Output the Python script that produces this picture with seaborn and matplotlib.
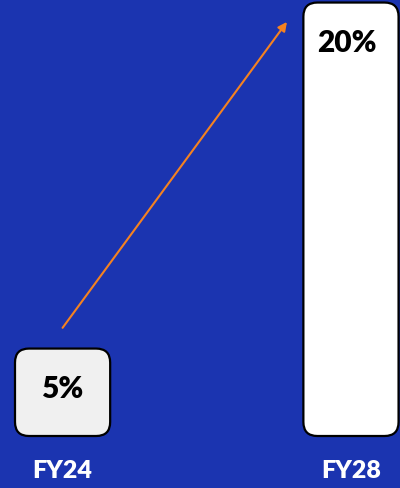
import matplotlib
matplotlib.use("Agg")
import matplotlib.pyplot as plt
import seaborn as sns
import pandas as pd
from matplotlib.patches import FancyBboxPatch

# Share by fiscal year
years = ["FY24", "FY28"]
shares = [5, 20]
share_labels = ["5%", "20%"]

BG = "#1b34b0"
BAR_COLORS = ["#f0f0f0", "#ffffff"]
ARROW = "#f58220"

sns.set_theme(style="white")
plt.rcParams["font.family"] = ["Lato", "DejaVu Sans"]

fig = plt.figure(figsize=(4, 4.88), dpi=100, facecolor=BG)
ax_bottom_px = 436
ax = fig.add_axes([0, 1 - ax_bottom_px / 488, 1, ax_bottom_px / 488])
ax.set_facecolor(BG)

df = pd.DataFrame({"year": years, "share": shares})
sns.barplot(data=df, x="year", y="share", hue="year", palette=BAR_COLORS,
            legend=False, width=0.33, ax=ax, edgecolor="black", linewidth=1.6)

ax.set_xlim(-0.217, 1.17)
ax.set_ylim(1.21, 20.11)
for s in ax.spines.values():
    s.set_visible(False)
ax.set_yticks([])
ax.set_xlabel("")
ax.set_ylabel("")

fig.canvas.draw()
# data units per pixel, for round corners of equal size in both directions
x_per_px = (ax.get_xlim()[1] - ax.get_xlim()[0]) / ax.bbox.width
y_per_px = (ax.get_ylim()[1] - ax.get_ylim()[0]) / ax.bbox.height
radius_px = 14
ylo = ax.get_ylim()[0]

bars = list(ax.patches)
for bar, color in zip(bars, BAR_COLORS):
    x, w, h = bar.get_x(), bar.get_width(), bar.get_height()
    bar.remove()
    box = FancyBboxPatch((x, ylo), w, h - ylo,
                         boxstyle=f"round,pad=0,rounding_size={radius_px * x_per_px}",
                         mutation_aspect=y_per_px / x_per_px,
                         facecolor=color, edgecolor="black", linewidth=1.6,
                         clip_on=False, zorder=2)
    ax.add_patch(box)

for i, (v, lab) in enumerate(zip(shares, share_labels)):
    ax.text(i - 0.015 * i, v - 40 * y_per_px, lab, ha="center", va="center",
            fontsize=21.5, fontweight="heavy", color="black", zorder=3)

ax.annotate("", xy=(0.778, 19.16), xytext=(0, 5.9),
            arrowprops=dict(arrowstyle="-|>", color=ARROW, lw=1.5,
                            mutation_scale=13, shrinkA=0, shrinkB=0))

ax.set_xticks(range(len(years)))
ax.set_xticklabels(years)
ax.tick_params(axis="x", length=0, pad=17, labelsize=18, labelcolor="white")
for t in ax.get_xticklabels():
    t.set_fontweight("heavy")

fig.savefig("out.png", dpi=100, facecolor=BG)
